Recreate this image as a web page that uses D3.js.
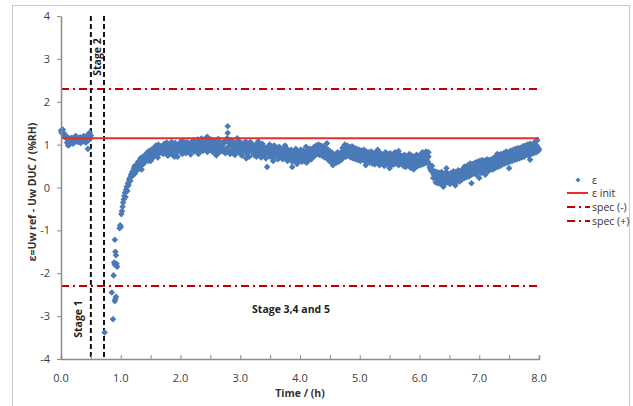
<!DOCTYPE html>
<html>
<head>
<meta charset="utf-8">
<script src="https://cdn.jsdelivr.net/npm/d3@7"></script>
<style>
  body { margin: 0; background: #fff; }
  text { font-family: "Open Sans", "Liberation Sans", sans-serif; }
</style>
</head>
<body>
<svg id="chart" width="633" height="406"></svg>
<script>
// stage 1: samples every 0.01 h from t = 0
var stage1Start = 0, stage1Step = 0.01;
var stage1V = [
  1.33, 1.28, 1.30, 1.25, 1.27, 1.22, 1.24, 1.18, 1.21, 1.15,
  1.05, 1.17, 1.02, 1.12, 1.08, 1.14, 1.06, 1.10, 1.16, 1.09,
  1.13, 1.05, 1.11, 1.18, 1.08, 1.12, 1.15, 1.07, 1.10, 1.14,
  1.06, 1.12, 1.17, 1.09, 1.13, 1.08, 1.15, 1.11, 1.19, 1.07,
  1.14, 1.10, 1.16, 1.12, 1.22, 1.09, 1.15, 1.25, 1.13, 1.18,
  1.21
];
// recovery after stage 2 (sparse points)
var recT = [0.73, 0.85, 0.87, 0.88, 0.90, 0.91, 0.92, 0.89, 0.90, 0.91, 0.90, 0.92, 0.94, 0.93,
  0.98, 0.99, 1.00, 1.01, 1.02, 1.03, 1.04, 1.05, 1.06, 1.07, 1.08, 1.09, 1.10, 1.11,
  1.12, 1.13, 1.14, 1.15, 1.16, 1.17, 1.18, 1.19];
var recV = [-3.38, -2.45, -3.07, -2.05, -2.65, -2.60, -2.55, -1.75, -1.80, -1.50, -1.22, -1.58, -1.85, -1.78,
  -0.95, -0.88, -0.92, -0.62, -0.55, -0.45, -0.35, -0.28, -0.20, -0.12, -0.22, -0.05, 0.02, -0.08,
  0.10, 0.05, 0.18, 0.22, 0.15, 0.30, 0.25, 0.35];
// stages 3,4,5: samples every 0.02 h from t = 1.2
var mainStart = 1.2, mainStep = 0.02;
var mainV = [
  0.38, 0.45, 0.33, 0.52, 0.48, 0.58, 0.50, 0.64, 0.60, 0.55, 0.70, 0.66, 0.74, 0.62, 0.78, 0.72, 0.82, 0.76, 0.88, 0.80, 0.92, 0.84, 0.95, 0.86, 0.90,
  0.95, 0.82, 0.98, 0.88, 0.76, 0.93, 0.86, 1.00, 0.84, 0.90, 0.97, 0.80, 0.92, 0.88, 1.02, 0.85, 0.94, 0.90, 0.99, 0.83, 0.96, 0.91, 1.03, 0.87, 0.95,
  0.98, 1.05, 0.90, 1.00, 0.93, 1.08, 0.95, 0.88, 1.02, 0.97, 1.10, 0.92, 1.00, 0.94, 1.06, 0.89, 0.99, 1.04, 0.91, 0.97, 1.02, 0.86, 0.95, 1.00, 0.93,
  0.98, 0.90, 1.05, 0.88, 1.15, 0.95, 1.08, 0.85, 0.97, 1.02, 0.90, 0.82, 0.96, 1.04, 0.88, 0.93, 0.99, 0.84, 0.92, 1.00, 0.87, 0.95, 0.83, 0.91, 0.98,
  0.90, 0.85, 0.95, 0.80, 0.88, 0.92, 0.78, 0.86, 0.93, 0.82, 0.75, 0.88, 0.80, 0.90, 0.84, 0.72, 0.86, 0.92, 0.79, 0.85, 0.89, 0.76, 0.83, 0.90, 0.81,
  0.82, 0.76, 0.88, 0.80, 0.74, 0.85, 0.78, 0.70, 0.83, 0.75, 0.68, 0.80, 0.73, 0.65, 0.78, 0.70, 0.76, 0.66, 0.74, 0.80, 0.69, 0.77, 0.72, 0.82, 0.75,
  0.78, 0.85, 0.80, 0.90, 0.84, 0.93, 0.86, 0.95, 0.88, 0.82, 0.90, 0.85, 0.80, 0.76, 0.84, 0.72, 0.78, 0.66, 0.74, 0.60, 0.70, 0.65, 0.76, 0.68, 0.74,
  0.80, 0.86, 0.76, 0.90, 0.82, 0.88, 0.78, 0.92, 0.84, 0.79, 0.87, 0.75, 0.83, 0.80, 0.72, 0.78, 0.70, 0.76, 0.82, 0.68, 0.74, 0.79, 0.66, 0.73, 0.70,
  0.68, 0.74, 0.62, 0.70, 0.66, 0.76, 0.60, 0.72, 0.67, 0.63, 0.71, 0.58, 0.69, 0.65, 0.74, 0.61, 0.68, 0.64, 0.72, 0.59, 0.67, 0.70, 0.62, 0.66, 0.73,
  0.64, 0.58, 0.68, 0.55, 0.62, 0.70, 0.57, 0.65, 0.60, 0.53, 0.66, 0.59, 0.63, 0.56, 0.61, 0.67, 0.58, 0.64, 0.70, 0.62, 0.75, 0.66, 0.60, 0.55, 0.48,
  0.42, 0.35, 0.30, 0.24, 0.32, 0.20, 0.28, 0.18, 0.26, 0.33, 0.22, 0.30, 0.17, 0.25, 0.21, 0.29, 0.15, 0.24, 0.27, 0.19, 0.31, 0.23, 0.28, 0.34, 0.26,
  0.30, 0.36, 0.26, 0.40, 0.33, 0.44, 0.29, 0.38, 0.47, 0.35, 0.42, 0.50, 0.37, 0.45, 0.53, 0.40, 0.48, 0.56, 0.43, 0.51, 0.46, 0.58, 0.49, 0.44, 0.55,
  0.52, 0.60, 0.48, 0.57, 0.63, 0.50, 0.66, 0.58, 0.54, 0.68, 0.61, 0.72, 0.57, 0.65, 0.75, 0.62, 0.70, 0.78, 0.66, 0.74, 0.69, 0.80, 0.72, 0.77, 0.83,
  0.78, 0.85, 0.74, 0.88, 0.81, 0.92, 0.79, 0.86, 0.95, 0.83, 0.90, 0.87, 0.98, 0.84, 0.93, 0.89
];
// in-between samples, every 0.02 h from t = 1.21
var mainStart2 = 1.21;
var mainV2 = [
  0.30, 0.50, 0.42, 0.40, 0.60, 0.44, 0.68, 0.52, 0.72, 0.58, 0.62, 0.80, 0.64, 0.85, 0.70, 0.88, 0.68, 0.92, 0.74, 0.98, 0.78, 1.00, 0.80, 0.96, 0.82,
  0.78, 1.02, 0.84, 1.05, 0.74, 0.98, 0.80, 1.06, 0.76, 0.96, 1.04, 0.82, 0.72, 1.00, 0.86, 1.08, 0.78, 0.94, 1.03, 0.80, 1.06, 0.84, 0.98, 0.77, 1.04,
  1.10, 0.84, 1.06, 0.86, 1.12, 0.82, 1.04, 1.14, 0.85, 1.08, 0.88, 1.16, 0.83, 1.07, 0.90, 1.12, 0.84, 1.02, 0.80, 1.09, 0.87, 1.13, 0.82, 1.06, 0.89,
  0.84, 1.08, 0.80, 1.12, 0.86, 1.04, 0.78, 1.10, 0.82, 1.06, 0.76, 1.02, 0.85, 1.09, 0.80, 1.05, 0.74, 1.00, 0.88, 1.07, 0.79, 1.03, 0.72, 1.06, 0.84,
  1.00, 0.76, 0.98, 0.72, 1.04, 0.80, 0.96, 0.70, 1.02, 0.78, 0.94, 0.68, 0.92, 0.82, 1.00, 0.74, 0.96, 0.70, 0.98, 0.76, 0.92, 0.66, 0.95, 0.74, 0.90,
  0.66, 0.90, 0.70, 0.92, 0.62, 0.86, 0.68, 0.88, 0.60, 0.84, 0.64, 0.90, 0.58, 0.82, 0.66, 0.88, 0.60, 0.86, 0.62, 0.84, 0.58, 0.88, 0.64, 0.90, 0.66,
  0.70, 0.94, 0.74, 0.98, 0.78, 1.00, 0.76, 0.98, 0.74, 0.96, 0.70, 0.92, 0.68, 0.88, 0.62, 0.84, 0.58, 0.80, 0.56, 0.76, 0.58, 0.82, 0.60, 0.80, 0.64,
  0.92, 0.70, 0.96, 0.72, 0.98, 0.74, 0.94, 0.70, 0.96, 0.68, 0.92, 0.66, 0.90, 0.64, 0.88, 0.62, 0.86, 0.66, 0.88, 0.60, 0.84, 0.62, 0.82, 0.58, 0.84,
  0.56, 0.80, 0.54, 0.82, 0.58, 0.78, 0.52, 0.80, 0.56, 0.76, 0.50, 0.82, 0.54, 0.78, 0.56, 0.80, 0.52, 0.76, 0.54, 0.82, 0.56, 0.78, 0.52, 0.76, 0.58,
  0.74, 0.50, 0.76, 0.48, 0.72, 0.52, 0.78, 0.46, 0.74, 0.50, 0.72, 0.46, 0.76, 0.50, 0.74, 0.52, 0.78, 0.54, 0.80, 0.56, 0.84, 0.58, 0.72, 0.46, 0.40,
  0.50, 0.22, 0.38, 0.12, 0.36, 0.10, 0.34, 0.08, 0.36, 0.14, 0.32, 0.10, 0.36, 0.12, 0.30, 0.08, 0.34, 0.12, 0.38, 0.10, 0.36, 0.16, 0.40, 0.14, 0.38,
  0.18, 0.44, 0.22, 0.48, 0.24, 0.52, 0.26, 0.56, 0.30, 0.54, 0.32, 0.58, 0.30, 0.60, 0.36, 0.62, 0.34, 0.64, 0.38, 0.62, 0.40, 0.66, 0.38, 0.64, 0.42,
  0.66, 0.42, 0.70, 0.46, 0.72, 0.48, 0.76, 0.50, 0.78, 0.54, 0.80, 0.56, 0.84, 0.58, 0.82, 0.60, 0.86, 0.62, 0.88, 0.64, 0.90, 0.66, 0.86, 0.68, 0.92,
  0.70, 0.96, 0.72, 0.98, 0.76, 1.00, 0.74, 1.02, 0.78, 0.98, 0.80, 1.04, 0.82, 0.96, 0.86
];
// isolated outliers and scattered edge points
var outT = [0.45, 2.79, 2.79, 3.45, 3.87, 4.45, 6.15, 6.87, 7.00, 7.97,
  0.03, 0.06, 0.12, 0.14, 0.20, 0.25, 0.33, 0.38, 0.42, 0.48,
  1.35, 1.50, 1.62, 1.90, 2.05, 2.30, 2.45, 2.60, 2.95, 3.10, 3.30,
  3.55, 3.75, 3.95, 4.10, 4.55, 4.75, 5.10, 5.30, 5.50, 5.65, 5.90,
  6.05, 6.40, 6.45, 6.60, 6.75, 7.10, 7.30, 7.50, 7.65, 7.85, 7.92];
var outV = [0.90, 1.43, 1.27, 0.48, 0.48, 1.03, 0.82, 0.10, 0.22, 1.10,
  1.35, 1.18, 0.98, 1.00, 1.02, 1.20, 1.04, 1.20, 1.05, 1.28,
  0.42, 0.62, 0.70, 0.72, 1.08, 0.78, 1.18, 0.75, 1.15, 0.68, 1.08,
  0.62, 0.98, 0.55, 0.95, 0.52, 1.00, 0.52, 0.88, 0.45, 0.85, 0.42,
  0.82, 0.02, 0.45, 0.05, 0.48, 0.30, 0.78, 0.45, 0.92, 0.65, 1.05];

var epsInit = 1.15;
var specMinus = -2.3, specPlus = 2.3;
var stageLines = [0.5, 0.72];
var xTicks = [0, 1, 2, 3, 4, 5, 6, 7, 8];
var yTicks = [-4, -3, -2, -1, 0, 1, 2, 3, 4];
var legendNames = ['ε', 'ε init', 'spec (-)', 'spec (+)'];

const svg = d3.select('#chart');
const x = d3.scaleLinear().domain([0, 8]).range([61, 539]);
const y = d3.scaleLinear().domain([-4, 4]).range([359, 16]);

const blue = '#4a7ab8', red = '#ee2b2b', darkRed = '#c00000', axisCol = '#8c8c8c';

// outer frame
svg.append('rect').attr('x', 12.5).attr('y', 5.5).attr('width', 617).attr('height', 410)
  .attr('fill', 'none').attr('stroke', '#c8c8c8').attr('stroke-width', 1);

// build points
var pts = [];
stage1V.forEach((v, i) => pts.push([stage1Start + i * stage1Step, v]));
recV.forEach((v, i) => pts.push([recT[i], v]));
mainV.forEach((v, i) => pts.push([mainStart + i * mainStep, v]));
mainV2.forEach((v, i) => pts.push([mainStart2 + i * mainStep, v]));
outV.forEach((v, i) => pts.push([outT[i], v]));

// horizontal reference lines
svg.append('line').attr('x1', x(0)).attr('x2', x(8)).attr('y1', y(specPlus)).attr('y2', y(specPlus))
  .attr('stroke', darkRed).attr('stroke-width', 2).attr('stroke-dasharray', '8,4,2,4');
svg.append('line').attr('x1', x(0)).attr('x2', x(8)).attr('y1', y(specMinus)).attr('y2', y(specMinus))
  .attr('stroke', darkRed).attr('stroke-width', 2).attr('stroke-dasharray', '8,4,2,4');

// stage dashed verticals
svg.selectAll('.stage').data(stageLines).join('line')
  .attr('x1', d => x(d)).attr('x2', d => x(d)).attr('y1', y(4)).attr('y2', y(-4))
  .attr('stroke', '#111').attr('stroke-width', 2).attr('stroke-dasharray', '5,3');

// points
const diamond = 'M0,-3.3L3.3,0L0,3.3L-3.3,0Z';
svg.append('g').selectAll('path').data(pts).join('path')
  .attr('d', diamond)
  .attr('transform', d => `translate(${x(d[0])},${y(d[1])})`)
  .attr('fill', blue);

// epsilon init line
svg.append('line').attr('x1', x(0)).attr('x2', x(8)).attr('y1', y(epsInit)).attr('y2', y(epsInit))
  .attr('stroke', red).attr('stroke-width', 2);

// axes
const xAxis = svg.append('g').attr('transform', `translate(0,${y(-4)})`)
  .call(d3.axisBottom(x).tickValues(d3.range(0, 8.01, 0.5)).tickSize(-4).tickFormat(''));
xAxis.select('.domain').attr('stroke', axisCol).attr('stroke-width', 1.5);
xAxis.selectAll('.tick line').attr('stroke', axisCol);
svg.append('g').selectAll('text').data(xTicks).join('text')
  .attr('x', d => x(d)).attr('y', 382).attr('text-anchor', 'middle')
  .attr('font-size', 11).attr('fill', '#404040').text(d => d.toFixed(1));

const yAxis = svg.append('g').attr('transform', `translate(${x(0)},0)`)
  .call(d3.axisLeft(y).tickValues(yTicks).tickSize(4).tickSizeOuter(0).tickFormat(''));
yAxis.select('.domain').attr('stroke', axisCol).attr('stroke-width', 1.5);
yAxis.selectAll('.tick line').attr('stroke', axisCol);
svg.append('g').selectAll('text').data(yTicks).join('text')
  .attr('x', 50).attr('y', d => y(d) + 4).attr('text-anchor', 'end')
  .attr('font-size', 11).attr('fill', '#404040').text(d => d);

// titles
svg.append('text').attr('x', 300).attr('y', 397).attr('text-anchor', 'middle')
  .attr('font-size', 10.5).attr('font-weight', 'bold').attr('fill', '#333').text('Time / (h)');
svg.append('text').attr('transform', 'translate(36,192) rotate(-90)').attr('text-anchor', 'middle')
  .attr('font-size', 10.5).attr('font-weight', 'bold').attr('fill', '#333').text('ε=Uw ref - Uw DUC / (%RH)');

// stage annotations
svg.append('text').attr('transform', 'translate(82,319) rotate(-90)').attr('text-anchor', 'middle')
  .attr('font-size', 10.5).attr('font-weight', 'bold').attr('fill', '#222').text('Stage 1');
svg.append('text').attr('transform', 'translate(101,57) rotate(-90)').attr('text-anchor', 'middle')
  .attr('font-size', 10.5).attr('font-weight', 'bold').attr('fill', '#222').text('Stage 2');
svg.append('text').attr('x', 291).attr('y', 313).attr('text-anchor', 'middle')
  .attr('font-size', 10.5).attr('font-weight', 'bold').attr('fill', '#222').text('Stage 3,4 and 5');

// legend
const lg = svg.append('g').attr('font-size', 10.5).attr('fill', '#333');
const ly = [180, 193, 207, 221];
lg.append('path').attr('d', 'M0,-2.5L2.5,0L0,2.5L-2.5,0Z').attr('transform', `translate(578,${ly[0]})`).attr('fill', blue);
lg.append('line').attr('x1', 567).attr('x2', 588).attr('y1', ly[1]).attr('y2', ly[1]).attr('stroke', red).attr('stroke-width', 2);
[2, 3].forEach(i => lg.append('line').attr('x1', 567).attr('x2', 590).attr('y1', ly[i]).attr('y2', ly[i])
  .attr('stroke', darkRed).attr('stroke-width', 2).attr('stroke-dasharray', '8,4,2,4'));
lg.selectAll('text').data(legendNames).join('text')
  .attr('x', 592).attr('y', (d, i) => ly[i] + 4).text(d => d);
</script>
</body>
</html>
